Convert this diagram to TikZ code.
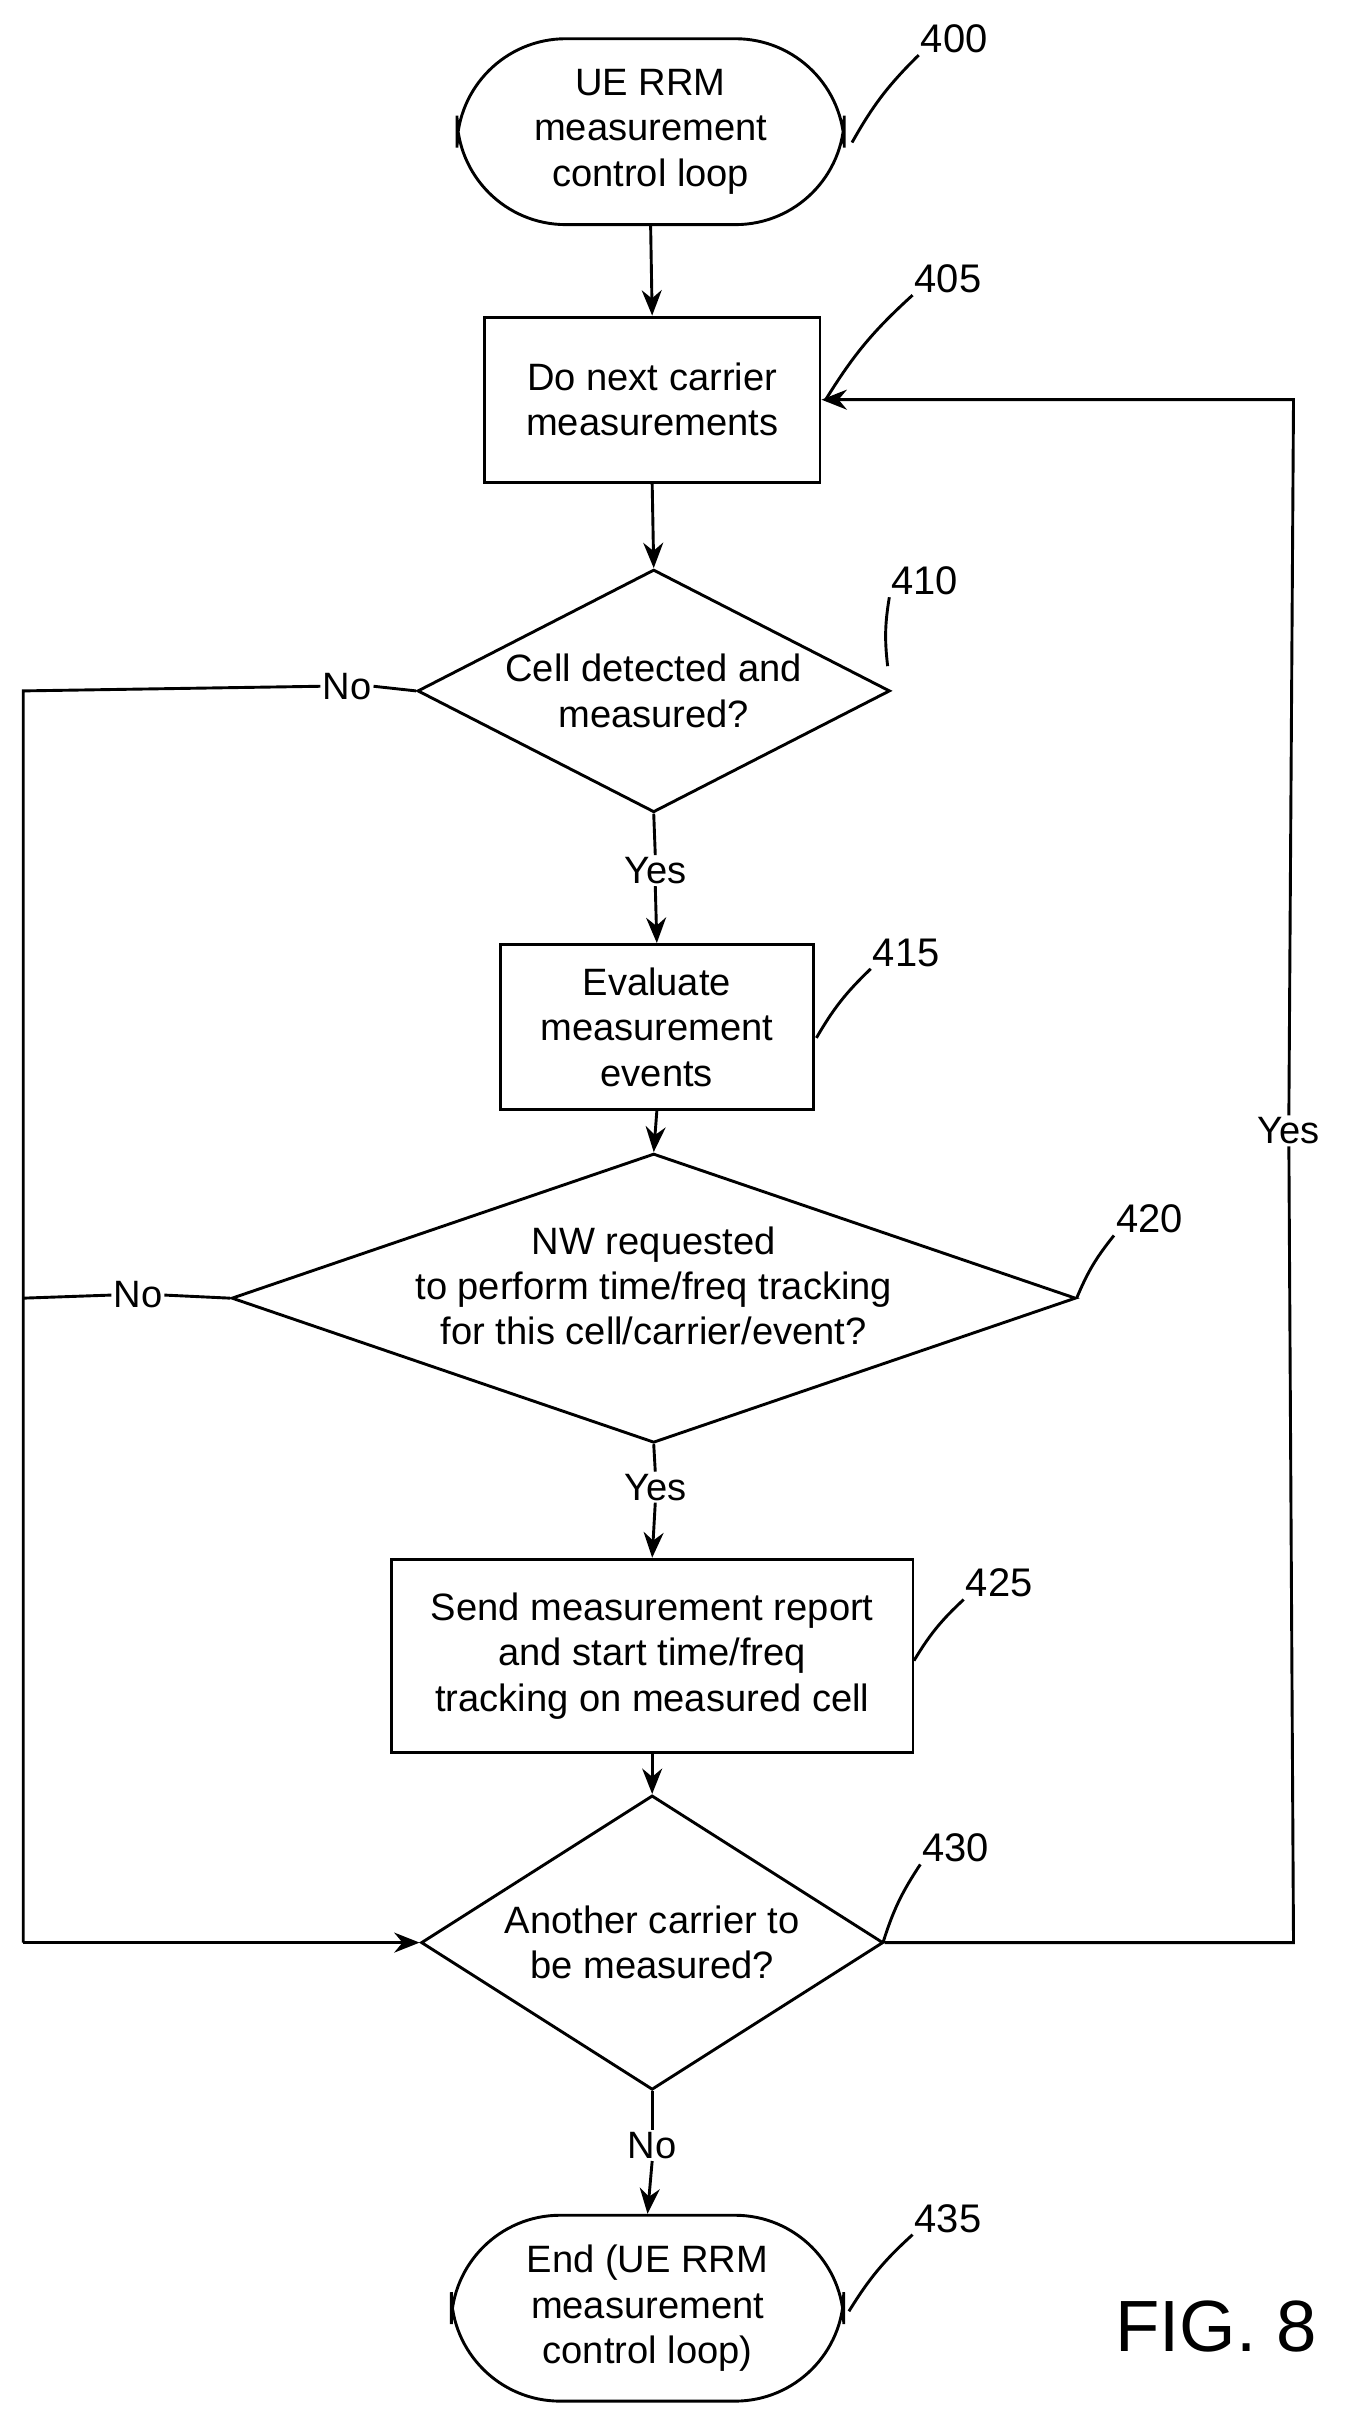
\documentclass[tikz,border=0pt]{standalone}
\usepackage{fontspec}
\setmainfont{Liberation Sans}
\usetikzlibrary{shapes.geometric,arrows.meta}
\begin{document}
\begin{tikzpicture}[x=0.03cm,y=-0.03cm,
  every node/.style={font=\fontsize{21}{25}\selectfont},
  line/.style={line width=1.6pt},
  arr/.style={line, -{Stealth[length=14pt,width=11pt]}},
  box/.style={draw,line width=1.6pt,align=center,inner sep=0pt},
  lbl/.style={inner sep=1pt},
  ref/.style={inner sep=1pt,font=\fontsize{22}{26}\selectfont}]
\useasboundingbox (0,0) rectangle (870,1568);
\node[box,rounded corners=60,minimum width=7.5cm,minimum height=3.6cm] (s) at (420,85) {UE RRM\\measurement\\control loop};
\node[box,minimum width=6.5cm,minimum height=3.2cm] (b405) at (421,258) {Do next carrier\\measurements};
\node[box,diamond,minimum width=9.15cm,minimum height=4.7cm,aspect=1.94] (d410) at (422,446) {};
\node[align=center] at (422,446) {Cell detected and\\measured?};
\node[box,minimum width=6.06cm,minimum height=3.2cm] (b415) at (424,663) {Evaluate\\measurement\\events};
\node[box,diamond,minimum width=16.35cm,minimum height=5.6cm,aspect=2.9] (d420) at (422,838) {};
\node[align=center] at (422,830) {NW requested\\to perform time/freq tracking\\for this cell/carrier/event?};
\node[box,minimum width=10.1cm,minimum height=3.75cm] (b425) at (421,1069) {Send measurement report\\and start time/freq\\tracking on measured cell};
\node[box,diamond,minimum width=8.95cm,minimum height=5.7cm,aspect=1.57] (d430) at (421,1254) {};
\node[align=center] at (421,1254) {Another carrier to\\be measured?};
\node[box,rounded corners=60,minimum width=7.6cm,minimum height=3.6cm] (e) at (418,1490) {End (UE RRM\\measurement\\control loop)};
% labels
\node[lbl] (y1) at (423,562) {Yes};
\node[lbl] (y2) at (423,960) {Yes};
\node[lbl] (n3) at (421,1385) {No};
\node[lbl] (n1) at (224,443) {No};
\node[lbl] (n2) at (89,836) {No};
\node[lbl,fill=white] (y4) at (832,730) {Yes};
\coordinate (c1) at (15,446);
\coordinate (c2) at (15,838);
\coordinate (c3) at (15,1254);
\coordinate (c4) at (835,1254);
\coordinate (c5) at (835,258);
% connectors
\draw[arr] (s.south) -- (b405.north);
\draw[arr] (b405.south) -- (d410.north);
\draw[line] (d410.south) -- (y1.north);
\draw[arr] (y1.south) -- (b415.north);
\draw[arr] (b415.south) -- (d420.north);
\draw[line] (d420.south) -- (y2.north);
\draw[arr] (y2.south) -- (b425.north);
\draw[arr] (b425.south) -- (d430.north);
\draw[line] (d430.south) -- (n3.north);
\draw[arr] (n3.south) -- (e.north);
\draw[line] (d410.west) -- (n1.east);
\draw[line] (n1.west) -- (c1) -- (c3);
\draw[line] (d420.west) -- (n2.east);
\draw[line] (n2.west) -- (c2);
\draw[arr] (c3) -- (d430.west);
\draw[line] (d430.east) -- (c4) -- (y4.south);
\draw[arr] (y4.north) -- (c5) -- (b405.east);
% reference numerals
\node[ref] (r400) at (616,25) {400};
\node[ref] (r405) at (612,180) {405};
\node[ref] (r410) at (597,375) {410};
\node[ref] (r415) at (585,615) {415};
\node[ref] (r420) at (742,787) {420};
\node[ref] (r425) at (645,1022) {425};
\node[ref] (r430) at (617,1193) {430};
\node[ref] (r435) at (612,1432) {435};
\draw[line] (550,92) to[bend left=8] (r400.south west);
\draw[line] (533,258) to[bend left=8] (r405.south west);
\draw[line] (573,430) to[bend left=8] (r410.south west);
\draw[line] (527,670) to[bend left=8] (r415.south west);
\draw[line] (695,838) to[bend left=8] (r420.south west);
\draw[line] (590,1072) to[bend left=8] (r425.south west);
\draw[line] (570,1254) to[bend left=8] (r430.south west);
\draw[line] (548,1492) to[bend left=8] (r435.south west);
\node[font=\fontsize{40}{44}\selectfont] (fig) at (785,1502) {FIG. 8};
\end{tikzpicture}
\end{document}
